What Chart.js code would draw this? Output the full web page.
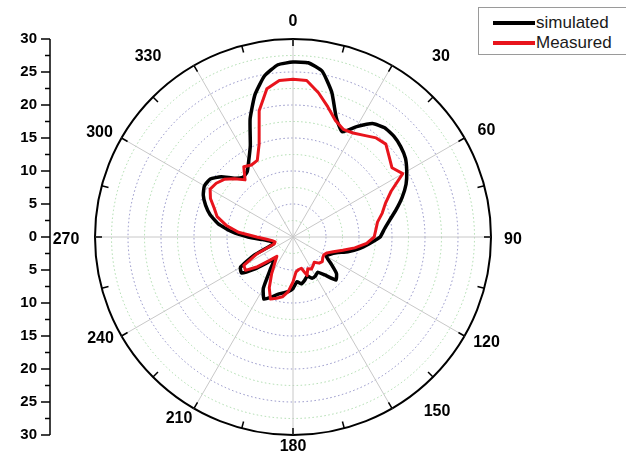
<!DOCTYPE html>
<html><head><meta charset="utf-8">
<script src="https://cdn.jsdelivr.net/npm/chart.js@4.4.1/dist/chart.umd.min.js"></script>
<style>
html,body{margin:0;padding:0;background:#fff;}
#wrap{position:relative;width:626px;height:453px;overflow:hidden;background:#fff;}
#c{position:absolute;left:0;top:0;}
#legend{position:absolute;left:478px;top:7px;width:170px;height:46px;border:1px solid #9a9a9a;background:#fff;font-family:'Liberation Sans',Arial,sans-serif;font-size:17px;color:#1a1a1a;}
.item{position:absolute;left:14px;height:20px;display:flex;align-items:center;white-space:nowrap;}
.sw{width:42px;height:4px;margin-right:1px;}
</style></head><body>
<div id="wrap"><canvas id="c" width="626" height="453"></canvas><div id="legend"></div></div>
<script>
// angle categories (degrees, clockwise from top)
const angles = [0,5,10,15,20,25,30,35,40,45,50,55,60,65,70,75,80,85,90,95,100,105,110,115,120,125,130,135,140,145,150,155,160,165,170,175,180,185,190,195,200,205,210,215,220,225,230,235,240,245,250,255,260,265,270,275,280,285,290,295,300,305,310,315,320,325,330,335,340,345,350,355];
// labelled angles on the polar axis
const angleTickLabels = [0,30,60,90,120,150,180,210,240,270,300,330];
// outer ring tick marks
const ringTicks = [0,15,30,45,60,75,90,105,120,135,150,165,180,195,210,225,240,255,270,285,300,315,330,345];
// radial axis values
const radialMajor = [0,5,10,15,20,25,30];
const radialMinor = [2.5,7.5,12.5,17.5,22.5,27.5];

const simulated = [26.5,26.5,25.5,22.7,19.2,17.6,19.3,21.0,21.6,21.6,21.3,20.8,19.9,18.9,17.6,16.2,14.9,13.9,13.2,11.6,10.2,8.6,7.0,6.2,5.8,7.0,8.6,9.2,7.5,6.5,6.8,6.9,6.3,6.8,7.2,6.8,7.8,8.3,8.6,9.0,9.7,10.4,9.0,6.0,4.3,5.5,7.5,9.5,9.2,6.5,3.2,3.0,3.6,4.6,6.8,9.3,11.5,13.0,14.1,15.0,15.5,15.3,14.2,12.6,11.8,12.1,13.4,15.3,19.0,22.3,24.8,26.2];
const measured = [23.9,23.8,22.2,20.4,18.8,18.0,18.2,18.8,19.6,19.9,19.0,18.3,19.2,16.4,14.9,14.0,13.0,12.6,12.3,11.2,9.5,7.8,6.5,5.7,5.4,5.5,5.8,5.6,5.0,5.3,5.6,5.3,6.2,4.9,5.0,5.3,6.8,8.3,9.2,9.6,10.0,8.5,6.5,4.8,3.8,5.0,7.0,8.8,8.6,6.0,3.0,2.8,3.2,4.0,5.5,8.3,10.3,11.9,12.7,13.8,14.5,14.2,13.6,12.5,11.3,13.0,12.6,12.8,15.0,19.8,22.8,23.8];

const labelFont = "bold 15px 'Liberation Sans', Arial, sans-serif";
const angleFont = "bold 16px 'Liberation Sans', Arial, sans-serif";
// label nudges (px) from the outer-ring point of each labelled angle
const angleLabelNudge = {0:[0,-17],30:[49,-9],60:[22,-7],90:[22,3],120:[22,7],150:[45,3],180:[0,12],210:[-15,10],240:[-21,3],270:[-29,3],300:[-22,-5],330:[-46,-9]};

const axisPlugin = {
  id: 'polarDecor',
  afterDraw(chart) {
    const s = chart.scales.r, ctx = chart.ctx;
    const yc = s.yCenter, x = 50;
    const full = s.getDistanceFromCenterForValue(30);
    ctx.save();
    ctx.strokeStyle = '#000';
    ctx.lineWidth = 1.5;
    // left radial axis
    ctx.beginPath(); ctx.moveTo(x, yc - full); ctx.lineTo(x, yc + full); ctx.stroke();
    ctx.font = labelFont; ctx.fillStyle = '#000';
    ctx.textAlign = 'right'; ctx.textBaseline = 'middle';
    for (const v of radialMajor) {
      const d = s.getDistanceFromCenterForValue(v);
      for (const y of (v === 0 ? [yc] : [yc - d, yc + d])) {
        ctx.beginPath(); ctx.moveTo(x - 9, y); ctx.lineTo(x, y); ctx.stroke();
        ctx.fillText(String(v), x - 13, y);
      }
    }
    for (const v of radialMinor) {
      const d = s.getDistanceFromCenterForValue(v);
      for (const y of [yc - d, yc + d]) {
        ctx.beginPath(); ctx.moveTo(x - 5, y); ctx.lineTo(x, y); ctx.stroke();
      }
    }
    // ticks on the outer ring
    for (const a of ringTicks) {
      const i = angles.indexOf(a);
      const p1 = s.getPointPosition(i, full);
      const p2 = s.getPointPosition(i, full - 7);
      ctx.beginPath(); ctx.moveTo(p1.x, p1.y); ctx.lineTo(p2.x, p2.y); ctx.stroke();
    }
    // angle labels
    ctx.font = angleFont; ctx.textAlign = 'center'; ctx.textBaseline = 'middle';
    for (const a of angleTickLabels) {
      const p = s.getPointPosition(angles.indexOf(a), full);
      const n = angleLabelNudge[a];
      ctx.fillText(String(a), p.x + n[0], p.y + n[1]);
    }
    ctx.restore();
  }
};

const chart = new Chart(document.getElementById('c'), {
  type: 'radar',
  data: {
    labels: angles,
    datasets: [
      {label: 'simulated', data: simulated, borderColor: '#000000', backgroundColor: '#000000', borderWidth: 3.5, pointRadius: 0, fill: false, tension: 0.15, order: 1},
      {label: 'Measured', data: measured, borderColor: '#e8141c', backgroundColor: '#e8141c', borderWidth: 3, pointRadius: 0, fill: false, tension: 0, order: 0}
    ]
  },
  options: {
    responsive: false,
    animation: false,
    devicePixelRatio: 1,
    layout: {padding: {left: 95, right: 135, top: 39, bottom: 18}},
    plugins: {legend: {display: false}, tooltip: {enabled: false}},
    elements: {line: {borderJoinStyle: 'round', borderCapStyle: 'round'}},
    scales: {
      r: {
        min: 0, max: 30, startAngle: 0,
        ticks: {display: false, stepSize: 2.5},
        grid: {
          circular: true,
          color: c => c.tick.value === 30 ? '#000000' : (c.tick.value % 5 === 0 ? 'rgba(110,110,180,0.75)' : 'rgba(140,205,140,0.7)'),
          lineWidth: c => c.tick.value === 30 ? 2 : 1
        },
        border: {dash: c => (c.tick && c.tick.value === 30) ? [] : [1.5, 2.5]},
        angleLines: {
          color: c => (angles[c.index] % 30 === 0) ? '#c8c8c8' : 'rgba(0,0,0,0)',
          lineWidth: c => (angles[c.index] % 30 === 0) ? 1 : 0
        },
        pointLabels: {display: false}
      }
    }
  },
  plugins: [axisPlugin]
});

// legend built from the datasets
const lg = document.getElementById('legend');
chart.data.datasets.forEach((ds, i) => {
  const it = document.createElement('div');
  it.className = 'item';
  it.style.top = (5 + i * 20) + 'px';
  const sw = document.createElement('span');
  sw.className = 'sw'; sw.style.background = ds.borderColor;
  const tx = document.createElement('span');
  tx.textContent = ds.label;
  it.appendChild(sw); it.appendChild(tx);
  lg.appendChild(it);
});
</script>
</body></html>
